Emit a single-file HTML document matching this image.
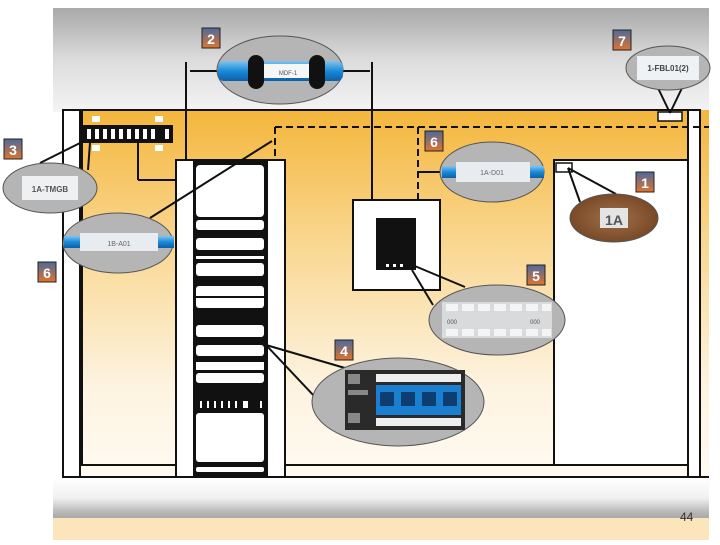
<!DOCTYPE html>
<html><head><meta charset="utf-8"><style>
body{margin:0;width:720px;height:540px;overflow:hidden;background:#fff;font-family:"Liberation Sans",sans-serif}
</style></head><body>
<svg width="720" height="540" viewBox="0 0 720 540" xmlns="http://www.w3.org/2000/svg" font-family="Liberation Sans, sans-serif">
<defs>
<linearGradient id="gtop" x1="0" y1="0" x2="0" y2="1"><stop offset="0" stop-color="#a9a9aa"/><stop offset="0.5" stop-color="#dcdcdc"/><stop offset="1" stop-color="#f4f4f4"/></linearGradient>
<linearGradient id="gor" x1="0" y1="0" x2="0" y2="1"><stop offset="0" stop-color="#f4b63c"/><stop offset="0.35" stop-color="#f9d68e"/><stop offset="0.75" stop-color="#fdf3e0"/><stop offset="1" stop-color="#fffaf2"/></linearGradient>
<linearGradient id="gbot" x1="0" y1="0" x2="0" y2="1"><stop offset="0" stop-color="#ffffff"/><stop offset="0.5" stop-color="#f0f0f0"/><stop offset="0.85" stop-color="#b8b8b8"/><stop offset="1" stop-color="#a8a8a8"/></linearGradient>
<linearGradient id="gb" x1="0" y1="0" x2="0" y2="1"><stop offset="0" stop-color="#4d6a9c"/><stop offset="1" stop-color="#e0732e"/></linearGradient>
<linearGradient id="blue" x1="0" y1="0" x2="0" y2="1"><stop offset="0" stop-color="#7fc4f0"/><stop offset="0.5" stop-color="#1a8ad8"/><stop offset="1" stop-color="#0d5fa8"/></linearGradient>
<radialGradient id="brown"><stop offset="0" stop-color="#a0704a"/><stop offset="1" stop-color="#7a4a28"/></radialGradient>
</defs>
<rect x="53" y="8" width="656" height="104" fill="url(#gtop)"/>
<rect x="63" y="110" width="646" height="368" fill="url(#gor)"/>
<rect x="53" y="478" width="656" height="40" fill="url(#gbot)"/>
<rect x="53" y="518" width="656" height="22" fill="#fce4bb"/>
<text x="680" y="521" font-size="12" fill="#333">44</text>

<g stroke="#111" stroke-width="2" fill="none">
<line x1="63" y1="110" x2="688" y2="110"/>
<rect x="63" y="110" width="17" height="367" fill="#fff"/>
<line x1="82" y1="110" x2="82" y2="465"/>
<line x1="63" y1="477" x2="709" y2="477"/>
<line x1="80" y1="465" x2="555" y2="465"/>
<rect x="688" y="110" width="12" height="367" fill="#fff"/>
<rect x="554" y="160" width="134" height="305" fill="#fff"/>
<line x1="186" y1="62" x2="186" y2="160"/>
<line x1="372" y1="62" x2="372" y2="200"/>
<line x1="138" y1="143" x2="138" y2="180"/>
<line x1="138" y1="180" x2="176" y2="180"/>
<line x1="90" y1="143" x2="88" y2="170"/>
</g>
<g stroke="#111" stroke-width="2" fill="none" stroke-dasharray="7,4">
<line x1="275" y1="127" x2="709" y2="127"/>
<line x1="275" y1="127" x2="275" y2="160"/>
<line x1="418" y1="127" x2="418" y2="200"/>
<line x1="186" y1="140" x2="186" y2="160"/>
</g>
<!-- patch panel -->
<rect x="83" y="125" width="90" height="18" fill="#111"/>
<g fill="#fff"><rect x="92" y="116" width="8" height="6"/><rect x="155" y="116" width="8" height="6"/><rect x="92" y="145" width="8" height="6"/><rect x="155" y="145" width="8" height="6"/>
<rect x="87" y="129" width="4" height="10"/><rect x="95" y="129" width="4" height="10"/><rect x="103" y="129" width="4" height="10"/><rect x="111" y="129" width="4" height="10"/><rect x="119" y="129" width="4" height="10"/><rect x="127" y="129" width="4" height="10"/><rect x="135" y="129" width="4" height="10"/><rect x="143" y="129" width="4" height="10"/><rect x="151" y="129" width="4" height="10"/><rect x="165" y="129" width="4" height="10"/></g>
<!-- rack -->
<rect x="176" y="160" width="109" height="317" fill="#fff" stroke="#111" stroke-width="2"/>
<rect x="193" y="160" width="75" height="317" fill="#111"/>
<g fill="#fff">
<rect x="196" y="165" width="68" height="52" rx="4"/><rect x="196" y="220" width="68" height="10" rx="3"/><rect x="196" y="238" width="68" height="12" rx="3"/><rect x="196" y="256" width="68" height="3"/><rect x="196" y="263" width="68" height="13" rx="3"/><rect x="196" y="286" width="68" height="22" rx="3"/><rect x="196" y="325" width="68" height="12" rx="3"/><rect x="196" y="345" width="68" height="11" rx="3"/><rect x="196" y="362" width="68" height="8"/><rect x="196" y="373" width="68" height="10" rx="3"/><rect x="196" y="413" width="68" height="49" rx="3"/><rect x="196" y="467" width="68" height="5" rx="2"/>
<rect x="200" y="401" width="2" height="7"/><rect x="207" y="401" width="2" height="7"/><rect x="214" y="401" width="2" height="7"/><rect x="221" y="401" width="2" height="7"/><rect x="228" y="401" width="2" height="7"/><rect x="235" y="401" width="2" height="7"/><rect x="243" y="401" width="5" height="7"/><rect x="260" y="401" width="2" height="7"/>
</g>
<line x1="196" y1="297" x2="264" y2="297" stroke="#111" stroke-width="2"/>
<!-- box -->
<rect x="353" y="200" width="87" height="90" fill="#fff" stroke="#111" stroke-width="2"/>
<rect x="376" y="218" width="40" height="52" fill="#111"/>
<g fill="#fff"><rect x="386" y="264" width="3" height="3"/><rect x="393" y="264" width="3" height="3"/><rect x="400" y="264" width="3" height="3"/></g>
<rect x="556" y="163" width="16" height="9" fill="#fff" stroke="#111" stroke-width="1.5"/>
<rect x="658" y="112" width="24" height="9" fill="#fff" stroke="#111" stroke-width="1.5"/>
<!-- leader lines -->
<g stroke="#111" stroke-width="2" fill="none">
<line x1="190" y1="71" x2="370" y2="71"/>
<line x1="40" y1="163" x2="82" y2="142"/>
<line x1="150" y1="218" x2="272" y2="141"/>
<line x1="418" y1="172" x2="440" y2="172"/>
<line x1="568" y1="168" x2="616" y2="194"/>
<line x1="568" y1="168" x2="580" y2="202"/>
<line x1="658" y1="88" x2="670" y2="113"/>
<line x1="682" y1="88" x2="670" y2="113"/>
<line x1="410" y1="264" x2="465" y2="287"/>
<line x1="412" y1="270" x2="433" y2="305"/>
<line x1="266" y1="345" x2="345" y2="368"/>
<line x1="266" y1="345" x2="315" y2="397"/>
</g>
<!-- callouts -->
<g stroke="#555" stroke-width="1" fill="#b5b5b5">
<ellipse cx="280" cy="70" rx="63" ry="34"/>
<ellipse cx="668" cy="68" rx="42" ry="22"/>
<ellipse cx="50" cy="188" rx="47" ry="25"/>
<ellipse cx="118" cy="243" rx="55" ry="30"/>
<ellipse cx="492" cy="172" rx="52" ry="30"/>
<ellipse cx="497" cy="320" rx="68" ry="35"/>
<ellipse cx="398" cy="402" rx="86" ry="44"/>
<ellipse cx="614" cy="218" rx="44" ry="24" fill="url(#brown)"/>
</g>
<rect x="218" y="61" width="125" height="20" rx="6" fill="url(#blue)"/>
<rect x="264" y="64" width="50" height="14" fill="#f4f6f8"/>
<rect x="248" y="55" width="16" height="34" rx="8" fill="#111"/>
<rect x="309" y="55" width="16" height="34" rx="8" fill="#111"/>
<text x="288" y="75" font-size="6" text-anchor="middle" fill="#555">MDF-1</text>
<rect x="637" y="56" width="62" height="24" fill="#eef2f4"/>
<text x="668" y="71" font-size="8" font-weight="bold" text-anchor="middle" fill="#444">1-FBL01(2)</text>
<rect x="22" y="176" width="56" height="24" fill="#eef0f2"/>
<text x="50" y="192" font-size="8" font-weight="bold" text-anchor="middle" fill="#555">1A-TMGB</text>
<rect x="64" y="236" width="110" height="12" fill="url(#blue)"/>
<rect x="80" y="233" width="78" height="18" fill="#e8ecf0"/>
<text x="119" y="246" font-size="7" text-anchor="middle" fill="#666">1B-A01</text>
<rect x="442" y="166" width="102" height="12" fill="url(#blue)"/>
<rect x="456" y="162" width="74" height="20" fill="#e8ecf0"/>
<text x="492" y="175" font-size="7" text-anchor="middle" fill="#666">1A-D01</text>
<rect x="600" y="208" width="28" height="20" fill="#e4e4e4"/>
<text x="614" y="225" font-size="14" font-weight="bold" text-anchor="middle" fill="#555">1A</text>
<rect x="442" y="302" width="110" height="36" fill="#d8dadc"/>
<g fill="#f4f4f4"><rect x="446" y="304" width="12" height="7"/><rect x="462" y="304" width="12" height="7"/><rect x="478" y="304" width="12" height="7"/><rect x="494" y="304" width="12" height="7"/><rect x="510" y="304" width="12" height="7"/><rect x="526" y="304" width="12" height="7"/><rect x="542" y="304" width="9" height="7"/>
<rect x="446" y="329" width="12" height="7"/><rect x="462" y="329" width="12" height="7"/><rect x="478" y="329" width="12" height="7"/><rect x="494" y="329" width="12" height="7"/><rect x="510" y="329" width="12" height="7"/><rect x="526" y="329" width="12" height="7"/><rect x="542" y="329" width="9" height="7"/></g>
<text x="447" y="324" font-size="6" fill="#555">000</text><text x="530" y="324" font-size="6" fill="#555">000</text>
<rect x="345" y="370" width="120" height="60" fill="#2a2a2a"/>
<rect x="376" y="374" width="85" height="8" fill="#eee"/>
<rect x="376" y="418" width="85" height="8" fill="#eee"/>
<rect x="376" y="385" width="85" height="30" fill="#1a7fd0"/>
<g fill="#0e3e70"><rect x="380" y="392" width="14" height="14"/><rect x="401" y="392" width="14" height="14"/><rect x="422" y="392" width="14" height="14"/><rect x="443" y="392" width="14" height="14"/></g>
<g fill="#888"><rect x="348" y="374" width="12" height="10"/><rect x="348" y="390" width="20" height="5"/><rect x="348" y="413" width="12" height="10"/></g>
<!-- badges -->
<g stroke="#222" stroke-width="1">
<rect x="202" y="28" width="18" height="20" fill="url(#gb)"/>
<rect x="613" y="30" width="18" height="20" fill="url(#gb)"/>
<rect x="4" y="139" width="18" height="20" fill="url(#gb)"/>
<rect x="425" y="131" width="18" height="20" fill="url(#gb)"/>
<rect x="636" y="172" width="18" height="20" fill="url(#gb)"/>
<rect x="38" y="262" width="18" height="20" fill="url(#gb)"/>
<rect x="527" y="265" width="18" height="20" fill="url(#gb)"/>
<rect x="335" y="340" width="18" height="20" fill="url(#gb)"/>
</g>
<g fill="#fff" font-size="14" font-weight="bold" text-anchor="middle">
<text x="211" y="44">2</text><text x="622" y="46">7</text><text x="13" y="155">3</text><text x="434" y="147">6</text><text x="645" y="188">1</text><text x="47" y="278">6</text><text x="536" y="281">5</text><text x="344" y="356">4</text>
</g>
</svg>
</body></html>
